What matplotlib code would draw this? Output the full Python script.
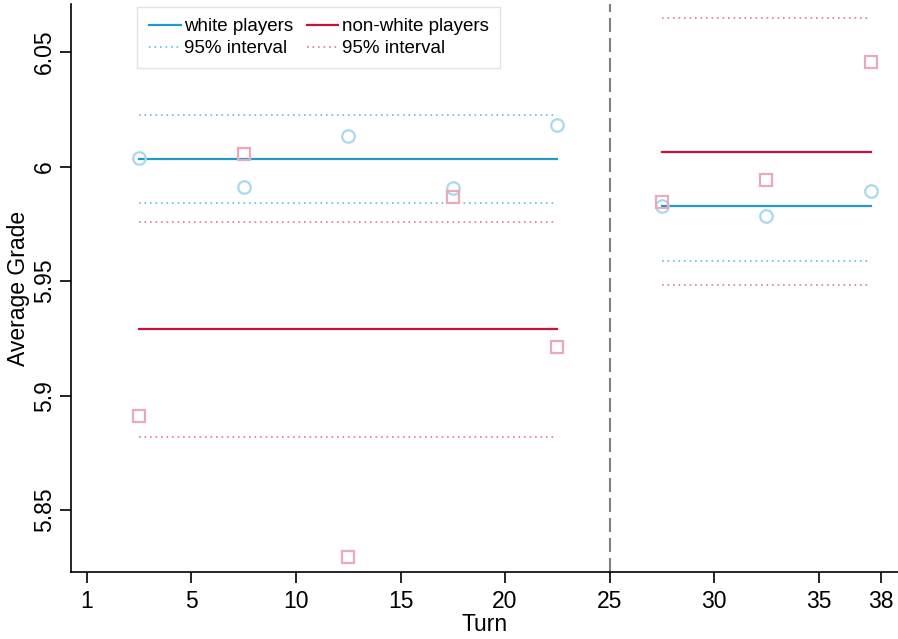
import matplotlib
matplotlib.use("Agg")
import matplotlib.pyplot as plt

plt.rcParams["font.family"] = ["Liberation Sans", "DejaVu Sans"]

# bin centres (turns) and bin averages
turns_pre = [2.5, 7.5, 12.5, 17.5, 22.5]
turns_post = [27.5, 32.5, 37.5]
white_pre = [6.0037, 5.9910, 6.0133, 5.9906, 6.0181]
white_post = [5.9828, 5.9784, 5.9893]
nonwhite_pre = [5.8910, 6.0055, 5.8295, 5.9867, 5.9212]
nonwhite_post = [5.9845, 5.9940, 6.0456]

# fitted means and 95% intervals: (mean, lower, upper)
white_fit_pre = (6.0033, 5.9840, 6.0225)
white_fit_post = (5.9828, 5.9590, 6.0066)
nonwhite_fit_pre = (5.9290, 5.8819, 5.9758)
nonwhite_fit_post = (6.0066, 5.9483, 6.0649)

xticks = [0, 5, 10, 15, 20, 25, 30, 35, 38]
xticklabels = ["1", "5", "10", "15", "20", "25", "30", "35", "38"]
yticks = [5.85, 5.9, 5.95, 6.0, 6.05]
yticklabels = ["5.85", "5.9", "5.95", "6", "6.05"]

blue = "#1f9acb"
blue_ci = "#5cbfe0"
blue_pt = "#a9d9ec"
red = "#c8103e"
red_ci = "#e0789a"
red_pt = "#eaa9bd"

fig = plt.figure(figsize=(8.98, 6.39), dpi=100)
ax = fig.add_axes([0.0794, 0.1049, 0.9206, 0.8888])

dot = (0, (1, 2.3))


def draw_fit(x, fit, color, ci_color, label=None, ci_label=None):
    mean, lo, hi = fit
    xs = [x[0], x[-1]]
    ax.plot(xs, [lo, lo], color=ci_color, lw=1.2, linestyle=dot, label=ci_label)
    ax.plot(xs, [hi, hi], color=ci_color, lw=1.2, linestyle=dot)
    ax.plot(xs, [mean, mean], color=color, lw=1.6, label=label)


draw_fit(turns_pre, white_fit_pre, blue, blue_ci, "white players", "95% interval")
draw_fit(turns_post, white_fit_post, blue, blue_ci)
draw_fit(turns_pre, nonwhite_fit_pre, red, red_ci, "non-white players", "95% interval")
draw_fit(turns_post, nonwhite_fit_post, red, red_ci)

ax.plot(turns_pre + turns_post, white_pre + white_post, linestyle="none",
        marker="o", markersize=9, markerfacecolor="none",
        markeredgecolor=blue_pt, markeredgewidth=1.6)
ax.plot(turns_pre + turns_post, nonwhite_pre + nonwhite_post, linestyle="none",
        marker="s", markersize=9, markerfacecolor="none",
        markeredgecolor=red_pt, markeredgewidth=1.6)

ax.axvline(25, color="#808080", lw=1.5, linestyle=(0, (6.7, 2.9)))

ax.set_xlim(-0.75, 38.8)
ax.set_ylim(5.823, 6.071)
ax.set_xticks(xticks)
ax.set_xticklabels(xticklabels)
ax.set_yticks(yticks)
ax.set_yticklabels(yticklabels, rotation=90, va="center")
ax.tick_params(axis="both", direction="out", length=8, width=1.2, labelsize=16.5)
ax.tick_params(axis="x", pad=5)
ax.tick_params(axis="y", pad=3)

for side in ["top", "right"]:
    ax.spines[side].set_visible(False)
for side in ["left", "bottom"]:
    ax.spines[side].set_linewidth(1.2)

ax.set_xlabel("Turn", fontsize=16.5, labelpad=0)
ax.set_ylabel("Average Grade", fontsize=16.5, labelpad=2)

handles, labels = ax.get_legend_handles_labels()
# order: white players, non-white players / 95% interval, 95% interval
order = [1, 0, 3, 2]
leg = ax.legend([handles[i] for i in order], [labels[i] for i in order],
                ncol=2, loc="upper left", bbox_to_anchor=(0.08, 0.995),
                borderaxespad=0, fontsize=13.5,
                frameon=True, fancybox=False,
                handlelength=1.7, handletextpad=0.2,
                columnspacing=0.7, labelspacing=0.26, borderpad=0.6)
leg.get_frame().set_edgecolor("#dddddd")
leg.get_frame().set_linewidth(1.0)

fig.savefig("out.png", dpi=100)
